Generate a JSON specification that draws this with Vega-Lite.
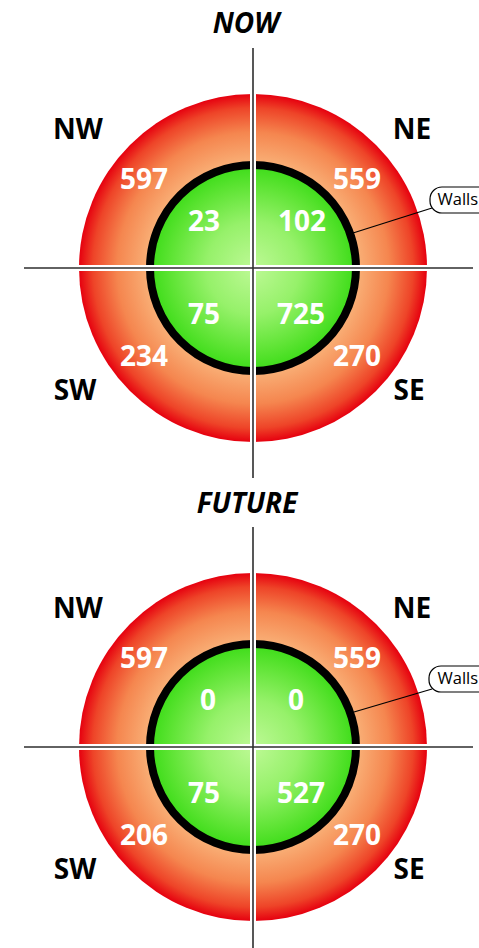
{
  "$schema": "https://vega.github.io/schema/vega-lite/v6.json",
  "width": 479,
  "height": 948,
  "autosize": "none",
  "padding": 0,
  "background": "white",
  "config": {"view": {"stroke": null}},
  "datasets": {
    "centers": [
      {"panel": "NOW", "x": 253, "y": 268},
      {"panel": "FUTURE", "x": 253, "y": 747}
    ],
    "gaps": [
      {"panel": "NOW", "x": 253, "y": 86, "x2": 253, "y2": 450},
      {"panel": "NOW", "x": 70, "y": 268, "x2": 436, "y2": 268},
      {"panel": "FUTURE", "x": 253, "y": 565, "x2": 253, "y2": 929},
      {"panel": "FUTURE", "x": 70, "y": 747, "x2": 436, "y2": 747}
    ],
    "axesLines": [
      {"panel": "NOW", "x": 253, "y": 48, "x2": 253, "y2": 478},
      {"panel": "NOW", "x": 24, "y": 268, "x2": 473, "y2": 268},
      {"panel": "FUTURE", "x": 253, "y": 527, "x2": 253, "y2": 948},
      {"panel": "FUTURE", "x": 24, "y": 747, "x2": 473, "y2": 747}
    ],
    "leaders": [
      {"panel": "NOW", "x": 353, "y": 233, "x2": 432, "y2": 208},
      {"panel": "FUTURE", "x": 354, "y": 712, "x2": 432, "y2": 689}
    ],
    "boxes": [
      {"panel": "NOW", "x": 430, "y": 187, "x2": 510, "y2": 213, "tx": 437.5, "ty": 200, "label": "Walls"},
      {"panel": "FUTURE", "x": 429, "y": 666, "x2": 510, "y2": 692, "tx": 437.5, "ty": 679, "label": "Walls"}
    ],
    "directions": [
      {"panel": "NOW", "label": "NW", "x": 78, "y": 131},
      {"panel": "NOW", "label": "NE", "x": 412, "y": 131},
      {"panel": "NOW", "label": "SW", "x": 75, "y": 392},
      {"panel": "NOW", "label": "SE", "x": 409, "y": 392},
      {"panel": "FUTURE", "label": "NW", "x": 78, "y": 610},
      {"panel": "FUTURE", "label": "NE", "x": 412, "y": 610},
      {"panel": "FUTURE", "label": "SW", "x": 75, "y": 871},
      {"panel": "FUTURE", "label": "SE", "x": 409, "y": 871}
    ],
    "values": [
      {"panel": "NOW", "zone": "outer", "dir": "NW", "value": 597, "x": 144, "y": 181},
      {"panel": "NOW", "zone": "outer", "dir": "NE", "value": 559, "x": 357, "y": 181},
      {"panel": "NOW", "zone": "inner", "dir": "NW", "value": 23, "x": 204, "y": 223},
      {"panel": "NOW", "zone": "inner", "dir": "NE", "value": 102, "x": 302, "y": 223},
      {"panel": "NOW", "zone": "inner", "dir": "SW", "value": 75, "x": 204, "y": 316},
      {"panel": "NOW", "zone": "inner", "dir": "SE", "value": 725, "x": 301, "y": 316},
      {"panel": "NOW", "zone": "outer", "dir": "SW", "value": 234, "x": 144, "y": 358},
      {"panel": "NOW", "zone": "outer", "dir": "SE", "value": 270, "x": 357, "y": 358},
      {"panel": "FUTURE", "zone": "outer", "dir": "NW", "value": 597, "x": 144, "y": 660},
      {"panel": "FUTURE", "zone": "outer", "dir": "NE", "value": 559, "x": 357, "y": 660},
      {"panel": "FUTURE", "zone": "inner", "dir": "NW", "value": 0, "x": 208, "y": 702},
      {"panel": "FUTURE", "zone": "inner", "dir": "NE", "value": 0, "x": 296, "y": 702},
      {"panel": "FUTURE", "zone": "inner", "dir": "SW", "value": 75, "x": 204, "y": 795},
      {"panel": "FUTURE", "zone": "inner", "dir": "SE", "value": 527, "x": 301, "y": 795},
      {"panel": "FUTURE", "zone": "outer", "dir": "SW", "value": 206, "x": 144, "y": 837},
      {"panel": "FUTURE", "zone": "outer", "dir": "SE", "value": 270, "x": 357, "y": 837}
    ],
    "titles": [
      {"panel": "NOW", "x": 246, "y": 25},
      {"panel": "FUTURE", "x": 247, "y": 505}
    ]
  },
  "layer": [
    {
      "data": {"name": "centers"},
      "mark": {
        "type": "point", "shape": "circle", "filled": true, "opacity": 1, "size": 121104, "strokeWidth": 0,
        "fill": {"gradient": "radial", "x1": 0.5, "y1": 0.5, "r1": 0, "x2": 0.5, "y2": 0.5, "r2": 0.5,
          "stops": [
            {"offset": 0, "color": "#fcd6a4"},
            {"offset": 0.6, "color": "#f9b077"},
            {"offset": 0.78, "color": "#f5864f"},
            {"offset": 0.92, "color": "#ee4428"},
            {"offset": 1, "color": "#e6000f"}
          ]}
      },
      "encoding": {
        "x": {"field": "x", "type": "quantitative", "scale": {"domain": [0, 479], "nice": false, "zero": false}, "axis": null},
        "y": {"field": "y", "type": "quantitative", "scale": {"domain": [0, 948], "reverse": true, "nice": false, "zero": false}, "axis": null}
      }
    },
    {
      "data": {"name": "centers"},
      "mark": {
        "type": "point", "shape": "circle", "filled": true, "opacity": 1, "size": 42436, "stroke": "#000000", "strokeWidth": 8, "strokeOpacity": 1,
        "fill": {"gradient": "radial", "x1": 0.5, "y1": 0.5, "r1": 0, "x2": 0.5, "y2": 0.5, "r2": 0.5,
          "stops": [
            {"offset": 0, "color": "#bdf995"},
            {"offset": 0.45, "color": "#96f16a"},
            {"offset": 0.8, "color": "#5ee434"},
            {"offset": 1, "color": "#3cdc18"}
          ]}
      },
      "encoding": {
        "x": {"field": "x", "type": "quantitative", "scale": {"domain": [0, 479], "nice": false, "zero": false}, "axis": null},
        "y": {"field": "y", "type": "quantitative", "scale": {"domain": [0, 948], "reverse": true, "nice": false, "zero": false}, "axis": null}
      }
    },
    {
      "data": {"name": "gaps"},
      "mark": {"type": "rule", "color": "#ffffff", "strokeWidth": 6},
      "encoding": {
        "x": {"field": "x", "type": "quantitative", "scale": {"domain": [0, 479], "nice": false, "zero": false}, "axis": null},
        "y": {"field": "y", "type": "quantitative", "scale": {"domain": [0, 948], "reverse": true, "nice": false, "zero": false}, "axis": null},
        "x2": {"field": "x2"},
        "y2": {"field": "y2"}
      }
    },
    {
      "data": {"name": "axesLines"},
      "mark": {"type": "rule", "color": "#2e2e2e", "strokeWidth": 1.6},
      "encoding": {
        "x": {"field": "x", "type": "quantitative", "scale": {"domain": [0, 479], "nice": false, "zero": false}, "axis": null},
        "y": {"field": "y", "type": "quantitative", "scale": {"domain": [0, 948], "reverse": true, "nice": false, "zero": false}, "axis": null},
        "x2": {"field": "x2"},
        "y2": {"field": "y2"}
      }
    },
    {
      "data": {"name": "leaders"},
      "mark": {"type": "rule", "color": "#000000", "strokeWidth": 1.3},
      "encoding": {
        "x": {"field": "x", "type": "quantitative", "scale": {"domain": [0, 479], "nice": false, "zero": false}, "axis": null},
        "y": {"field": "y", "type": "quantitative", "scale": {"domain": [0, 948], "reverse": true, "nice": false, "zero": false}, "axis": null},
        "x2": {"field": "x2"},
        "y2": {"field": "y2"}
      }
    },
    {
      "data": {"name": "boxes"},
      "mark": {"type": "rect", "fill": "#ffffff", "stroke": "#000000", "strokeWidth": 1.2, "cornerRadius": 12},
      "encoding": {
        "x": {"field": "x", "type": "quantitative", "scale": {"domain": [0, 479], "nice": false, "zero": false}, "axis": null},
        "y": {"field": "y", "type": "quantitative", "scale": {"domain": [0, 948], "reverse": true, "nice": false, "zero": false}, "axis": null},
        "x2": {"field": "x2"},
        "y2": {"field": "y2"}
      }
    },
    {
      "data": {"name": "boxes"},
      "mark": {"type": "text", "font": "Open Sans", "fontSize": 16.5, "color": "#000000", "align": "left", "baseline": "middle"},
      "encoding": {
        "x": {"field": "tx", "type": "quantitative", "scale": {"domain": [0, 479], "nice": false, "zero": false}, "axis": null},
        "y": {"field": "ty", "type": "quantitative", "scale": {"domain": [0, 948], "reverse": true, "nice": false, "zero": false}, "axis": null},
        "text": {"field": "label"}
      }
    },
    {
      "data": {"name": "directions"},
      "mark": {"type": "text", "font": "Open Sans", "fontSize": 28, "fontWeight": "bold", "color": "#000000", "align": "center", "baseline": "middle"},
      "encoding": {
        "x": {"field": "x", "type": "quantitative", "scale": {"domain": [0, 479], "nice": false, "zero": false}, "axis": null},
        "y": {"field": "y", "type": "quantitative", "scale": {"domain": [0, 948], "reverse": true, "nice": false, "zero": false}, "axis": null},
        "text": {"field": "label"}
      }
    },
    {
      "data": {"name": "values"},
      "mark": {"type": "text", "font": "Open Sans", "fontSize": 28, "fontWeight": "bold", "color": "#ffffff", "align": "center", "baseline": "middle"},
      "encoding": {
        "x": {"field": "x", "type": "quantitative", "scale": {"domain": [0, 479], "nice": false, "zero": false}, "axis": null},
        "y": {"field": "y", "type": "quantitative", "scale": {"domain": [0, 948], "reverse": true, "nice": false, "zero": false}, "axis": null},
        "text": {"field": "value", "type": "quantitative", "format": "d"}
      }
    },
    {
      "data": {"name": "titles"},
      "mark": {"type": "text", "font": "Open Sans", "fontSize": 28, "fontWeight": "bold", "fontStyle": "italic", "color": "#000000", "align": "center", "baseline": "middle"},
      "encoding": {
        "x": {"field": "x", "type": "quantitative", "scale": {"domain": [0, 479], "nice": false, "zero": false}, "axis": null},
        "y": {"field": "y", "type": "quantitative", "scale": {"domain": [0, 948], "reverse": true, "nice": false, "zero": false}, "axis": null},
        "text": {"field": "panel"}
      }
    }
  ]
}
